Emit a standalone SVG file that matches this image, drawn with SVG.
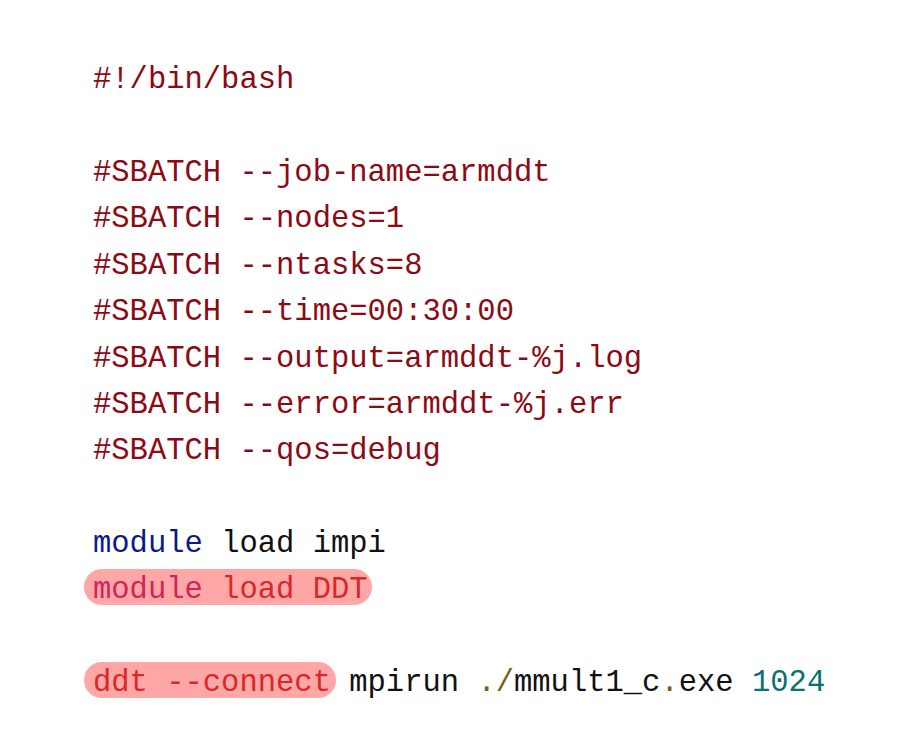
<svg xmlns="http://www.w3.org/2000/svg" width="922" height="744" viewBox="0 0 922 744">
<style>
text{font-family:"Liberation Mono","DejaVu Sans Mono",monospace;font-size:30.5px;white-space:pre}
.c{fill:#8b0a14}.k{fill:#0a1a8a}.p{fill:#111}.h{fill:#d42a2a}.o{fill:#7a5e1a}.n{fill:#0a7070}
.hl{fill:#ff9c9c;opacity:0.9}
</style>
<rect width="922" height="744" fill="#fff"/>
<g id="code">
<text x="93" y="88" class="c">#!/bin/bash</text>
<text x="93" y="181" class="c">#SBATCH --job-name=armddt</text>
<text x="93" y="227" class="c">#SBATCH --nodes=1</text>
<text x="93" y="274" class="c">#SBATCH --ntasks=8</text>
<text x="93" y="320" class="c">#SBATCH --time=00:30:00</text>
<text x="93" y="367" class="c">#SBATCH --output=armddt-%j.log</text>
<text x="93" y="413" class="c">#SBATCH --error=armddt-%j.err</text>
<text x="93" y="459" class="c">#SBATCH --qos=debug</text>
<text x="93" y="552"><tspan class="k">module</tspan><tspan class="p"> load impi</tspan></text>
<rect class="hl" x="84" y="569" width="288" height="36" rx="18"/>
<text x="93" y="598"><tspan fill="#d0245a">module</tspan><tspan class="h"> load DDT</tspan></text>
<rect class="hl" x="84" y="662" width="252" height="36" rx="18"/>
<text x="93" y="691"><tspan class="h">ddt --connect</tspan><tspan class="p"> mpirun </tspan><tspan class="o">./</tspan><tspan class="p">mmult1_c</tspan><tspan class="o">.</tspan><tspan class="p">exe </tspan><tspan class="n">1024</tspan></text>
</g>
</svg>
